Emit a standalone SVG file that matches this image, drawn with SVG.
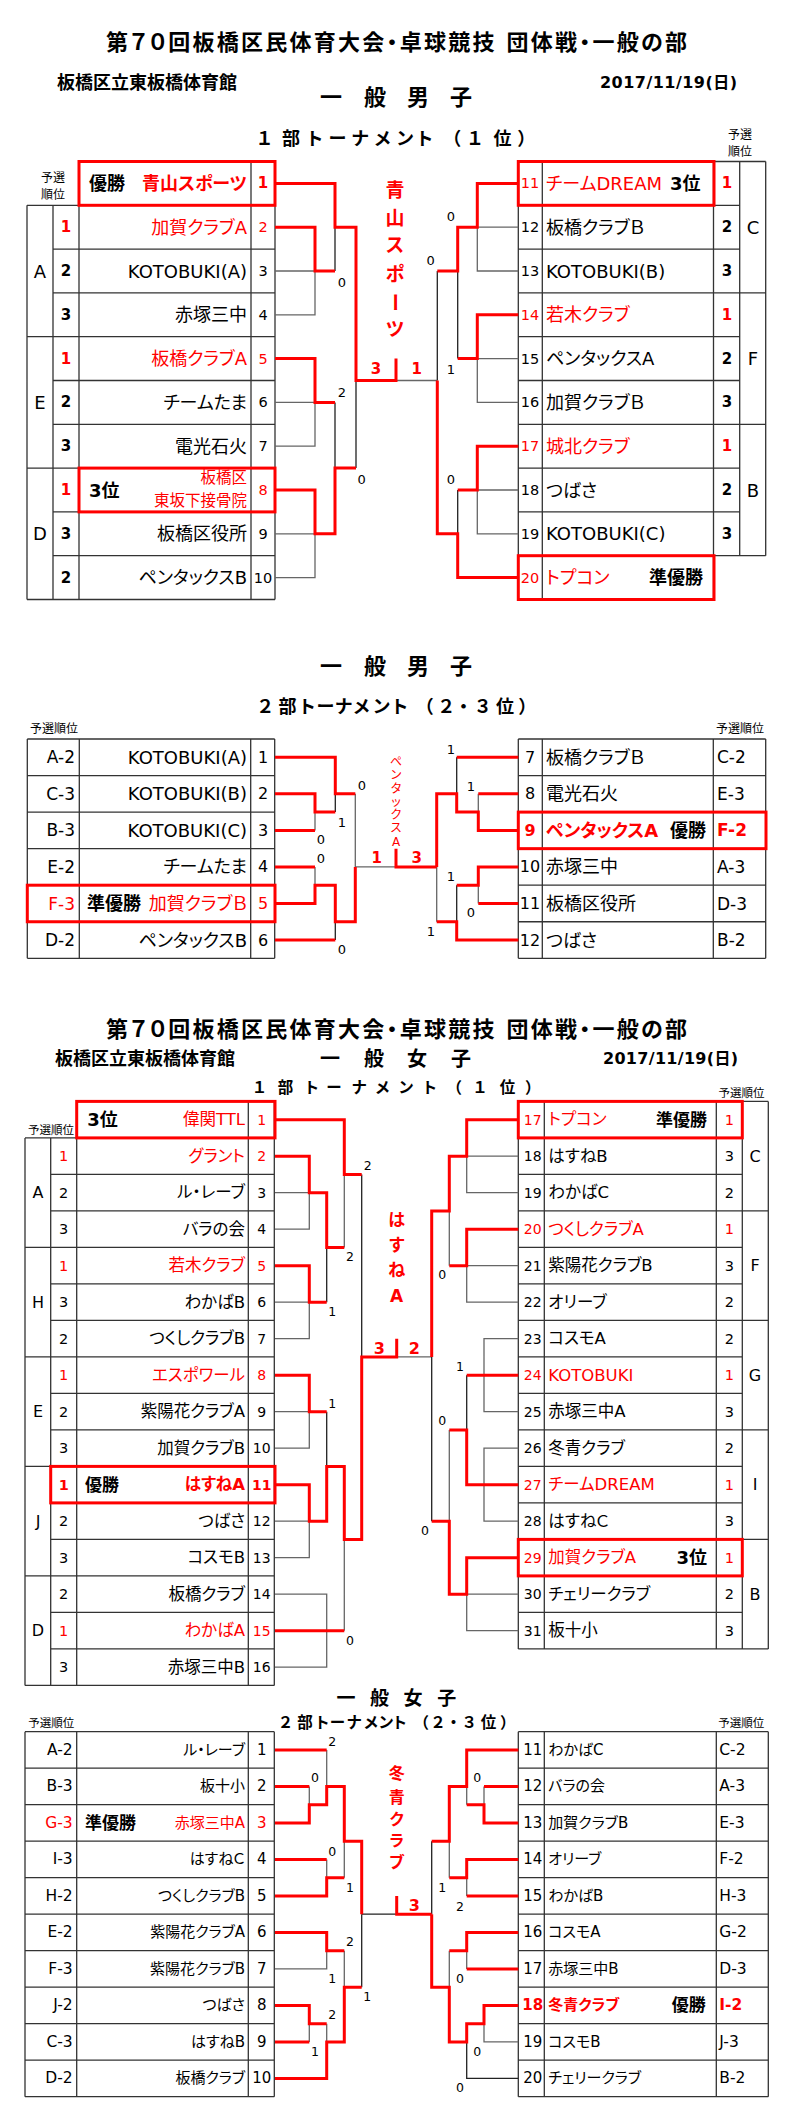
<svg xmlns="http://www.w3.org/2000/svg" width="794" height="2114" viewBox="0 0 794 2114">
<style>
text{font-family:"DejaVu Sans","Noto Sans CJK JP",sans-serif;dominant-baseline:central;font-feature-settings:"palt"}
.b{font-weight:700}
.r{fill:#f00}
.m{text-anchor:middle}
.e{text-anchor:end}
.tl{fill:none;stroke:#333;stroke-width:1.3}
.gl{fill:none;stroke:#666;stroke-width:1.3}
.kl{fill:none;stroke:#222;stroke-width:1.3}
.rl{fill:none;stroke:#f00;stroke-width:3}
.rb{fill:none;stroke:#f00;stroke-width:3}
</style>
<rect width="794" height="2114" fill="#fff"/>

<!-- ================= HEADERS ================= -->
<g id="m1-header">
<text class="b" x="106" y="42" font-size="22" textLength="581" lengthAdjust="spacing">第７０回板橋区民体育大会・卓球競技 団体戦・一般の部</text>
<text class="b" x="57" y="82" font-size="18" textLength="180" lengthAdjust="spacing">板橋区立東板橋体育館</text>
<text class="b" x="600" y="82" font-size="16" textLength="137" lengthAdjust="spacing">2017/11/19(日)</text>
<text class="b m" x="331 375 418 461" y="97.6" font-size="22">一般男子</text>
<text class="b m" x="264.5 291 315 337.5 360 382.5 405 425 456 475 502.5 522.5" y="138.5" font-size="18">１部トーナメント（１位）</text>
<text class="m" x="53" y="178" font-size="12">予選</text>
<text class="m" x="53" y="195" font-size="12">順位</text>
<text class="m" x="740" y="134.7" font-size="12">予選</text>
<text class="m" x="740" y="152" font-size="12">順位</text>
</g>
<g id="m2-header">
<text class="b m" x="331 375 418 461" y="666.7" font-size="22">一般男子</text>
<text class="b m" x="265 287.5 307.5 325.5 343.5 361.5 381.5 400 428.5 446 463.5 482.5 505 523.5" y="706" font-size="18">２部トーナメント（２・３位）</text>
<text x="30" y="729.3" font-size="12">予選順位</text>
<text x="716" y="729.3" font-size="12">予選順位</text>
</g>
<g id="w1-header">
<text class="b" x="106" y="1029" font-size="22" textLength="581" lengthAdjust="spacing">第７０回板橋区民体育大会・卓球競技 団体戦・一般の部</text>
<text class="b" x="55" y="1058.7" font-size="18" textLength="180" lengthAdjust="spacing">板橋区立東板橋体育館</text>
<text class="b" x="603" y="1058.7" font-size="16" textLength="135" lengthAdjust="spacing">2017/11/19(日)</text>
<text class="b m" x="330 374 417 461" y="1058.7" font-size="20">一般女子</text>
<text class="b m" x="259.5 285.5 312 334 359 382.5 406 430 457.5 480 507.5 529.5" y="1087.6" font-size="15.5">１部トーナメント（１位）</text>
<text class="m" x="51" y="1130" font-size="11.5">予選順位</text>
<text class="m" x="741.5" y="1093" font-size="11.5">予選順位</text>
</g>
<g id="w2-header">
<text class="b m" x="346 379.5 413 446.7" y="1698.3" font-size="19">一般女子</text>
<text class="b m" x="285.5 305 322.5 337.5 354 371 386 400 424.5 438 453.5 469 488.5 504.5" y="1722.7" font-size="15.5">２部トーナメント（２・３位）</text>
<text x="28.3" y="1723.3" font-size="11.5">予選順位</text>
<text x="718.3" y="1723.3" font-size="11.5">予選順位</text>
</g>

<!-- ================= TABLE GRIDS ================= -->
<g id="tables">
<path class="tl" d="M79 161.5H275 M27 205.3H275 M53 249.1H275 M53 292.9H275 M27 336.7H275 M53 380.5H275 M53 424.3H275 M27 468.1H275 M53 511.9H275 M53 555.7H275 M27 599.5H275 M27 205.3V599.5 M53 205.3V599.5 M79 161.5V599.5 M251 161.5V599.5 M275 161.5V599.5"/>
<path class="tl" d="M518.3 161.5H765.7 M518.3 205.3H739.7 M518.3 249.1H739.7 M518.3 292.9H765.7 M518.3 336.7H739.7 M518.3 380.5H739.7 M518.3 424.3H765.7 M518.3 468.1H739.7 M518.3 511.9H739.7 M518.3 555.7H765.7 M518.3 599.5H713.5 M518.3 161.5V599.5 M542.3 161.5V599.5 M713.5 161.5V599.5 M739.7 161.5V555.7 M765.7 161.5V555.7"/>
<path class="tl" d="M27.3 739H274.7 M27.3 775.55H274.7 M27.3 812.1H274.7 M27.3 848.65H274.7 M27.3 885.2H274.7 M27.3 921.75H274.7 M27.3 958.3H274.7 M27.3 739V958.3 M79.3 739V958.3 M250.7 739V958.3 M274.7 739V958.3"/>
<path class="tl" d="M518.3 739H765.7 M518.3 775.55H765.7 M518.3 812.1H765.7 M518.3 848.65H765.7 M518.3 885.2H765.7 M518.3 921.75H765.7 M518.3 958.3H765.7 M518.3 739V958.3 M542.3 739V958.3 M713.3 739V958.3 M765.7 739V958.3"/>
<path class="tl" d="M76.7 1101.4H274.3 M25 1137.9H274.3 M50.7 1174.4H274.3 M50.7 1210.9H274.3 M25 1247.4H274.3 M50.7 1283.9H274.3 M50.7 1320.4H274.3 M25 1356.9H274.3 M50.7 1393.4H274.3 M50.7 1429.9H274.3 M25 1466.4H274.3 M50.7 1502.9H274.3 M50.7 1539.4H274.3 M25 1575.9H274.3 M50.7 1612.4H274.3 M50.7 1648.9H274.3 M25 1685.4H274.3 M25 1137.9V1685.4 M50.7 1137.9V1685.4 M76.7 1101.4V1685.4 M248.3 1101.4V1685.4 M274.3 1101.4V1685.4"/>
<path class="tl" d="M518.3 1101.4H768.3 M518.3 1137.9H742.3 M518.3 1174.4H742.3 M518.3 1210.9H768.3 M518.3 1247.4H742.3 M518.3 1283.9H742.3 M518.3 1320.4H768.3 M518.3 1356.9H742.3 M518.3 1393.4H742.3 M518.3 1429.9H768.3 M518.3 1466.4H742.3 M518.3 1502.9H742.3 M518.3 1539.4H768.3 M518.3 1575.9H742.3 M518.3 1612.4H742.3 M518.3 1648.9H768.3 M518.3 1101.4V1648.9 M544.3 1101.4V1648.9 M716.3 1101.4V1648.9 M742.3 1101.4V1648.9 M768.3 1101.4V1648.9"/>
<path class="tl" d="M25 1731.7H274.3 M25 1768.2H274.3 M25 1804.7H274.3 M25 1841.2H274.3 M25 1877.7H274.3 M25 1914.2H274.3 M25 1950.7H274.3 M25 1987.2H274.3 M25 2023.7H274.3 M25 2060.2H274.3 M25 2096.7H274.3 M25 1731.7V2096.7 M76.7 1731.7V2096.7 M248.3 1731.7V2096.7 M274.3 1731.7V2096.7"/>
<path class="tl" d="M518.3 1731.7H768.3 M518.3 1768.2H768.3 M518.3 1804.7H768.3 M518.3 1841.2H768.3 M518.3 1877.7H768.3 M518.3 1914.2H768.3 M518.3 1950.7H768.3 M518.3 1987.2H768.3 M518.3 2023.7H768.3 M518.3 2060.2H768.3 M518.3 2096.7H768.3 M518.3 1731.7V2096.7 M544.3 1731.7V2096.7 M716.3 1731.7V2096.7 M768.3 1731.7V2096.7"/>
</g>

<!-- ================= CONNECTORS ================= -->
<g id="connectors">
<g id="m1-lines">
<path class="gl" d="M275 271H315V314.8H275 M275 402.4H315V446.2H275 M275 533.8H315V577.6H275 M396 380.5H437.3 M518.3 227.2H477.3V271H518.3 M518.3 358.6H477.3V402.4H518.3 M518.3 490H477.3V533.8H518.3"/>
<path class="kl" d="M335 227.2V271 M335 402.4V468.1 M356 380.5V468.1 M437.3 271V380.5 M457.7 271V358.6 M457.7 490V533.8"/>
<path class="rl" d="M275 183.4H335V227.2H356V380.5H396V358.6 M275 227.2H315V271H335 M275 358.6H315V402.4H335 M275 490H315V533.8H335V468.1H356 M518.3 183.4H477.3V227.2H457.7V271H437.3 M518.3 314.8H477.3V358.6H457.7 M518.3 446.2H477.3V490H457.7 M518.3 577.6H457.7V533.8H437.3V380.5"/>
</g>
<g id="m2-lines">
<path class="gl" d="M355.3 793.8V866.9 M315 812.1V830.4 M315 866.9V885.2 M355.3 866.9H396 M478.3 793.8V812.1 M478.3 885.2V903.5 M436.7 866.9V921.75"/>
<path class="kl" d="M335.3 793.8V812.1 M335.3 921.75V940 M456.7 757.3V793.8 M456.7 885.2V921.75"/>
<path class="rl" d="M275 757.3H335.3V793.8H355.3 M275 793.8H315V812.1H335.3 M275 830.4H315 M275 866.9H315 M275 903.5H315V885.2H335.3V921.75H355.3V866.9 M275 940H335.3 M396 848.65V866.9H436.7 M518.3 757.3H456.7 M518.3 793.8H478.3 M518.3 830.4H478.3V812.1H456.7V793.8H436.7V866.9 M518.3 866.9H478.3V885.2H456.7 M518.3 903.5H478.3 M518.3 940H456.7V921.75H436.7"/>
</g>
<g id="w1-lines">
<path class="gl" d="M275 1192.65H309.3V1229.15H275 M344.3 1174.4V1247.4 M275 1302.15H309.3V1338.65H275 M275 1411.65H309.3V1448.15H275 M275 1521.15H309.3V1557.65H275 M275 1594.15H326.7V1667.15H275 M344.3 1539.4V1630.65 M396.7 1356.9H431.7 M518.3 1156.15H466.7V1192.65H518.3 M449.3 1210.9V1265.65 M518.3 1265.65H466.7V1302.15H518.3 M518.3 1338.65H484V1411.65H518.3 M518.3 1448.15H484V1521.15H518.3 M449.3 1429.9V1521.15 M518.3 1594.15H466.7V1630.65H518.3"/>
<path class="kl" d="M361.7 1174.4V1356.9 M326.7 1247.4V1302.15 M326.7 1411.65V1466.4 M466.7 1375.15V1429.9 M431.7 1356.9V1521.15"/>
<path class="rl" d="M275 1119.65H344.3V1174.4H361.7 M275 1156.15H309.3V1192.65H326.7V1247.4H344.3 M275 1265.65H309.3V1302.15H326.7 M275 1375.15H309.3V1411.65H326.7 M275 1484.65H309.3V1521.15H326.7V1466.4H344.3V1539.4H361.7V1356.9H396.7V1338.65 M275 1630.65H344.3 M518.3 1119.65H466.7V1156.15H449.3V1210.9H431.7V1356.9 M518.3 1229.15H466.7V1265.65H449.3 M518.3 1375.15H466.7 M518.3 1484.65H466.7V1429.9H449.3 M518.3 1557.65H466.7V1594.15H449.3V1521.15H431.7"/>
</g>
<g id="w2-lines">
<path class="gl" d="M326.7 1749.95V1786.45 M309.3 1786.45V1804.7 M326.7 1859.45V1877.7 M344.3 1841.2V1877.7 M275 1968.95H326.7V1950.7 M344.3 1950.7V1987.2 M309.3 2023.7V2041.95 M326.7 2023.7V2041.95 M484 1786.45V1804.7 M466.7 1786.45V1804.7 M449.3 1841.2V1877.7 M466.7 1877.7V1895.95 M466.7 1950.7V1968.95 M449.3 1950.7V1987.2 M518.3 2041.95H484V2023.7"/>
<path class="kl" d="M361.7 1914.2H396.7 M361.7 1914.2V1987.2 M431.7 1841.2V1914.2 M518.3 2078.45H466.7V2041.95"/>
<path class="rl" d="M275 1749.95H326.7 M275 1786.45H309.3 M275 1822.95H309.3V1804.7H326.7V1786.45H344.3V1841.2H361.7V1914.2 M275 1859.45H326.7 M275 1895.95H326.7V1877.7H344.3 M275 1932.45H326.7V1950.7H344.3 M275 2005.45H309.3V2023.7H326.7 M275 2041.95H309.3 M275 2078.45H326.7V2041.95H344.3V1987.2H361.7 M396.7 1896V1914.2H431.7 M518.3 1749.95H466.7V1786.45H449.3V1841.2H431.7 M518.3 1786.45H484 M518.3 1822.95H484V1804.7H466.7 M518.3 1859.45H466.7V1877.7H449.3 M518.3 1895.95H466.7 M518.3 1932.45H466.7V1950.7H449.3 M518.3 1968.95H466.7 M518.3 2005.45H484V2023.7H466.7V2041.95H449.3V1987.2H431.7V1914.2"/>
</g>
</g>

<!-- ================= RED BOXES ================= -->
<g id="highlight-boxes">
<rect class="rb" x="79" y="161.5" width="196" height="43.8"/>
<rect class="rb" x="79" y="468.1" width="196" height="43.8"/>
<rect class="rb" x="518.3" y="161.5" width="195.7" height="43.8"/>
<rect class="rb" x="518.3" y="555.7" width="195.7" height="43.8"/>
<rect class="rb" x="27.3" y="885.2" width="247.7" height="36.55"/>
<rect class="rb" x="518.3" y="812.1" width="247.7" height="36.55"/>
<rect class="rb" x="76.7" y="1101.4" width="198.3" height="36.5"/>
<rect class="rb" x="50.7" y="1466.4" width="224.3" height="36.5"/>
<rect class="rb" x="518.3" y="1101.4" width="224" height="36.5"/>
<rect class="rb" x="518.3" y="1539.4" width="224" height="36.5"/>
</g>

<!-- ================= SCORES ================= -->
<g id="scores" font-size="13">
<text class="m" x="342" y="282.4">0</text><text class="m" x="342" y="392.2">2</text><text class="m" x="361.7" y="479.1">0</text>
<text class="m" x="451" y="216.2">0</text><text class="m" x="430.7" y="260.2">0</text><text class="m" x="451" y="369.3">1</text><text class="m" x="451" y="479.1">0</text>
<text class="m b r" x="376" y="369.3" font-size="15">3</text><text class="m b r" x="416.7" y="369.3" font-size="15">1</text>
<text class="m" x="362" y="785">0</text><text class="m" x="342" y="822">1</text><text class="m" x="321" y="839">0</text><text class="m" x="321" y="858">0</text><text class="m" x="342" y="949">0</text>
<text class="m" x="451" y="749">1</text><text class="m" x="471" y="786">1</text><text class="m" x="451" y="876">1</text><text class="m" x="471" y="912.7">0</text><text class="m" x="431" y="931">1</text>
<text class="m b r" x="376.7" y="857.7" font-size="15">1</text><text class="m b r" x="416.7" y="857.7" font-size="15">3</text>
<g font-size="12.5">
<text class="m" x="367.7" y="1165.7">2</text><text class="m" x="350" y="1256.5">2</text><text class="m" x="332.3" y="1311.5">1</text><text class="m" x="332.3" y="1403">1</text><text class="m" x="350" y="1640">0</text>
<text class="m" x="442.3" y="1274.5">0</text><text class="m" x="460" y="1366.4">1</text><text class="m" x="442.3" y="1420.6">0</text><text class="m" x="425" y="1530.3">0</text>
<text class="m" x="332.3" y="1741">2</text><text class="m" x="315" y="1777.7">0</text><text class="m" x="332.3" y="1851">0</text><text class="m" x="350" y="1887.3">1</text><text class="m" x="350" y="1941.7">2</text><text class="m" x="332.3" y="1978.3">1</text><text class="m" x="367.3" y="1996.7">1</text><text class="m" x="332.3" y="2014.3">2</text><text class="m" x="315" y="2051">1</text>
<text class="m" x="477.3" y="1777.7">0</text><text class="m" x="442.3" y="1887.5">1</text><text class="m" x="460" y="1906">2</text><text class="m" x="460" y="1978.3">0</text><text class="m" x="477.3" y="2051">0</text><text class="m" x="460" y="2087.7">0</text>
</g>
<text class="m b r" x="379.3" y="1348" font-size="16">3</text><text class="m b r" x="414.3" y="1348" font-size="16">2</text>
<text class="m b r" x="414.3" y="1905" font-size="16">3</text>
</g>

<!-- ================= CHAMPION NAMES (vertical) ================= -->
<g id="m1-champion" class="b r" font-size="19">
<text class="m" x="395" y="190.2">青</text><text class="m" x="395" y="218.1">山</text><text class="m" x="395" y="244.9">ス</text><text class="m" x="395" y="273.6">ポ</text><text class="m" transform="translate(395 302.3) rotate(90)">ー</text><text class="m" x="395" y="329.1">ツ</text>
</g>
<g id="m2-champion" class="r" font-size="12">
<text class="m" x="396" y="761.7">ペ</text><text class="m" x="396" y="775">ン</text><text class="m" x="396" y="788.5">タ</text><text class="m" x="396" y="801.7">ッ</text><text class="m" x="396" y="814.5">ク</text><text class="m" x="396" y="827.5">ス</text><text class="m" x="396" y="841.7">A</text>
</g>
<g id="w1-champion" class="b r" font-size="17">
<text class="m" x="396.7" y="1220">は</text><text class="m" x="396.7" y="1245">す</text><text class="m" x="396.7" y="1270">ね</text><text class="m" x="396.7" y="1295.7">A</text>
</g>
<g id="w2-champion" class="b r" font-size="16">
<text class="m" x="396.7" y="1773.3">冬</text><text class="m" x="396.7" y="1797.3">青</text><text class="m" x="396.7" y="1819.3">ク</text><text class="m" x="396.7" y="1840.7">ラ</text><text class="m" x="396.7" y="1862.7">ブ</text>
</g>

<!-- ================= MEN 1st TOURNAMENT TEAMS ================= -->
<g id="m1-groups" font-size="18">
<text class="m" x="40" y="271">A</text><text class="m" x="40" y="402.4">E</text><text class="m" x="40" y="533.8">D</text>
<text class="m" x="753" y="227.2">C</text><text class="m" x="753" y="358.6">F</text><text class="m" x="753" y="490">B</text>
</g>
<g id="m1-t1"><text class="b" x="89" y="183.4" font-size="18">優勝</text><text class="b r e" x="247" y="183.4" font-size="18">青山スポーツ</text><text class="b r m" x="263" y="183.4" font-size="15">1</text></g>
<g id="m1-t2"><text class="b r m" x="66" y="227.2" font-size="15">1</text><text class="r e" x="247" y="227.2" font-size="18">加賀クラブA</text><text class="r m" x="263" y="227.2" font-size="14.5">2</text></g>
<g id="m1-t3"><text class="b m" x="66" y="271" font-size="15">2</text><text class="e" x="247" y="271" font-size="18">KOTOBUKI(A)</text><text class="m" x="263" y="271" font-size="14.5">3</text></g>
<g id="m1-t4"><text class="b m" x="66" y="314.8" font-size="15">3</text><text class="e" x="247" y="314.8" font-size="18">赤塚三中</text><text class="m" x="263" y="314.8" font-size="14.5">4</text></g>
<g id="m1-t5"><text class="b r m" x="66" y="358.6" font-size="15">1</text><text class="r e" x="247" y="358.6" font-size="18">板橋クラブA</text><text class="r m" x="263" y="358.6" font-size="14.5">5</text></g>
<g id="m1-t6"><text class="b m" x="66" y="402.4" font-size="15">2</text><text class="e" x="247" y="402.4" font-size="18">チームたま</text><text class="m" x="263" y="402.4" font-size="14.5">6</text></g>
<g id="m1-t7"><text class="b m" x="66" y="446.2" font-size="15">3</text><text class="e" x="247" y="446.2" font-size="18">電光石火</text><text class="m" x="263" y="446.2" font-size="14.5">7</text></g>
<g id="m1-t8"><text class="b r m" x="66" y="490" font-size="15">1</text><text class="b" x="89" y="490" font-size="18">3位</text><text class="r e" x="247" y="478.3" font-size="15.5">板橋区</text><text class="r e" x="247" y="501.3" font-size="15.5">東坂下接骨院</text><text class="r m" x="263" y="490" font-size="14.5">8</text></g>
<g id="m1-t9"><text class="b m" x="66" y="533.8" font-size="15">3</text><text class="e" x="247" y="533.8" font-size="18">板橋区役所</text><text class="m" x="263" y="533.8" font-size="14.5">9</text></g>
<g id="m1-t10"><text class="b m" x="66" y="577.6" font-size="15">2</text><text class="e" x="247" y="577.6" font-size="18">ペンタックスB</text><text class="m" x="263" y="577.6" font-size="14.5">10</text></g>
<g id="m1-t11"><text class="r m" x="530" y="183.4" font-size="14.5">11</text><text class="r" x="546" y="183.4" font-size="18">チームDREAM</text><text class="b" x="670" y="183.4" font-size="18">3位</text><text class="b r m" x="727" y="183.4" font-size="15">1</text></g>
<g id="m1-t12"><text class="m" x="530" y="227.2" font-size="14.5">12</text><text x="546" y="227.2" font-size="18">板橋クラブＢ</text><text class="b m" x="727" y="227.2" font-size="15">2</text></g>
<g id="m1-t13"><text class="m" x="530" y="271" font-size="14.5">13</text><text x="546" y="271" font-size="18">KOTOBUKI(B)</text><text class="b m" x="727" y="271" font-size="15">3</text></g>
<g id="m1-t14"><text class="r m" x="530" y="314.8" font-size="14.5">14</text><text class="r" x="546" y="314.8" font-size="18">若木クラブ</text><text class="b r m" x="727" y="314.8" font-size="15">1</text></g>
<g id="m1-t15"><text class="m" x="530" y="358.6" font-size="14.5">15</text><text x="546" y="358.6" font-size="18">ペンタックスA</text><text class="b m" x="727" y="358.6" font-size="15">2</text></g>
<g id="m1-t16"><text class="m" x="530" y="402.4" font-size="14.5">16</text><text x="546" y="402.4" font-size="18">加賀クラブＢ</text><text class="b m" x="727" y="402.4" font-size="15">3</text></g>
<g id="m1-t17"><text class="r m" x="530" y="446.2" font-size="14.5">17</text><text class="r" x="546" y="446.2" font-size="18">城北クラブ</text><text class="b r m" x="727" y="446.2" font-size="15">1</text></g>
<g id="m1-t18"><text class="m" x="530" y="490" font-size="14.5">18</text><text x="546" y="490" font-size="18">つばさ</text><text class="b m" x="727" y="490" font-size="15">2</text></g>
<g id="m1-t19"><text class="m" x="530" y="533.8" font-size="14.5">19</text><text x="546" y="533.8" font-size="18">KOTOBUKI(C)</text><text class="b m" x="727" y="533.8" font-size="15">3</text></g>
<g id="m1-t20"><text class="r m" x="530" y="577.6" font-size="14.5">20</text><text class="r" x="546" y="577.6" font-size="18">トプコン</text><text class="b e" x="703" y="577.6" font-size="18">準優勝</text></g>

<!-- ================= MEN 2nd TOURNAMENT TEAMS ================= -->
<g id="m2-t1"><text class="e" x="75" y="757.3" font-size="17">A-2</text><text class="e" x="247" y="757.3" font-size="18">KOTOBUKI(A)</text><text class="m" x="263" y="757.3" font-size="16">1</text></g>
<g id="m2-t2"><text class="e" x="75" y="793.8" font-size="17">C-3</text><text class="e" x="247" y="793.8" font-size="18">KOTOBUKI(B)</text><text class="m" x="263" y="793.8" font-size="16">2</text></g>
<g id="m2-t3"><text class="e" x="75" y="830.4" font-size="17">B-3</text><text class="e" x="247" y="830.4" font-size="18">KOTOBUKI(C)</text><text class="m" x="263" y="830.4" font-size="16">3</text></g>
<g id="m2-t4"><text class="e" x="75" y="866.9" font-size="17">E-2</text><text class="e" x="247" y="866.9" font-size="18">チームたま</text><text class="m" x="263" y="866.9" font-size="16">4</text></g>
<g id="m2-t5"><text class="e r" x="75" y="903.5" font-size="17">F-3</text><text class="b" x="87" y="903.5" font-size="18">準優勝</text><text class="e r" x="247" y="903.5" font-size="18">加賀クラブＢ</text><text class="m r" x="263" y="903.5" font-size="16">5</text></g>
<g id="m2-t6"><text class="e" x="75" y="940" font-size="17">D-2</text><text class="e" x="247" y="940" font-size="18">ペンタックスB</text><text class="m" x="263" y="940" font-size="16">6</text></g>
<g id="m2-t7"><text class="m" x="530" y="757.3" font-size="16">7</text><text x="546" y="757.3" font-size="18">板橋クラブＢ</text><text x="717" y="757.3" font-size="17">C-2</text></g>
<g id="m2-t8"><text class="m" x="530" y="793.8" font-size="16">8</text><text x="546" y="793.8" font-size="18">電光石火</text><text x="717" y="793.8" font-size="17">E-3</text></g>
<g id="m2-t9"><text class="m b r" x="530" y="830.4" font-size="16">9</text><text class="b r" x="546" y="830.4" font-size="18">ペンタックスA</text><text class="b" x="670" y="830.4" font-size="18">優勝</text><text class="b r" x="717" y="830.4" font-size="17">F-2</text></g>
<g id="m2-t10"><text class="m" x="530" y="866.9" font-size="16">10</text><text x="546" y="866.9" font-size="18">赤塚三中</text><text x="717" y="866.9" font-size="17">A-3</text></g>
<g id="m2-t11"><text class="m" x="530" y="903.5" font-size="16">11</text><text x="546" y="903.5" font-size="18">板橋区役所</text><text x="717" y="903.5" font-size="17">D-3</text></g>
<g id="m2-t12"><text class="m" x="530" y="940" font-size="16">12</text><text x="546" y="940" font-size="18">つばさ</text><text x="717" y="940" font-size="17">B-2</text></g>

<!-- ================= WOMEN 1st TOURNAMENT TEAMS ================= -->
<g id="w1-groups" font-size="16">
<text class="m" x="38" y="1192.65">A</text><text class="m" x="38" y="1302.15">H</text><text class="m" x="38" y="1411.65">E</text><text class="m" x="38" y="1521.15">J</text><text class="m" x="38" y="1630.65">D</text>
<text class="m" x="755" y="1156.15">C</text><text class="m" x="755" y="1265.65">F</text><text class="m" x="755" y="1375.15">G</text><text class="m" x="755" y="1484.65">I</text><text class="m" x="755" y="1594.15">B</text>
</g>
<g id="w1-t1"><text class="b" x="87.3" y="1119.65" font-size="18">3位</text><text class="r e" x="245" y="1119.65" font-size="16.5">偉関TTL</text><text class="r m" x="261.7" y="1119.65" font-size="14">1</text></g>
<g id="w1-t2"><text class="r m" x="63.7" y="1156.15" font-size="14.5">1</text><text class="r e" x="245" y="1156.15" font-size="16.5">グラント</text><text class="r m" x="261.7" y="1156.15" font-size="14">2</text></g>
<g id="w1-t3"><text class="m" x="63.7" y="1192.65" font-size="14.5">2</text><text class="e" x="245" y="1192.65" font-size="16.5">ル・レーブ</text><text class="m" x="261.7" y="1192.65" font-size="14">3</text></g>
<g id="w1-t4"><text class="m" x="63.7" y="1229.15" font-size="14.5">3</text><text class="e" x="245" y="1229.15" font-size="16.5">バラの会</text><text class="m" x="261.7" y="1229.15" font-size="14">4</text></g>
<g id="w1-t5"><text class="r m" x="63.7" y="1265.65" font-size="14.5">1</text><text class="r e" x="245" y="1265.65" font-size="16.5">若木クラブ</text><text class="r m" x="261.7" y="1265.65" font-size="14">5</text></g>
<g id="w1-t6"><text class="m" x="63.7" y="1302.15" font-size="14.5">3</text><text class="e" x="245" y="1302.15" font-size="16.5">わかばB</text><text class="m" x="261.7" y="1302.15" font-size="14">6</text></g>
<g id="w1-t7"><text class="m" x="63.7" y="1338.65" font-size="14.5">2</text><text class="e" x="245" y="1338.65" font-size="16.5">つくしクラブB</text><text class="m" x="261.7" y="1338.65" font-size="14">7</text></g>
<g id="w1-t8"><text class="r m" x="63.7" y="1375.15" font-size="14.5">1</text><text class="r e" x="245" y="1375.15" font-size="16.5">エスポワール</text><text class="r m" x="261.7" y="1375.15" font-size="14">8</text></g>
<g id="w1-t9"><text class="m" x="63.7" y="1411.65" font-size="14.5">2</text><text class="e" x="245" y="1411.65" font-size="16.5">紫陽花クラブA</text><text class="m" x="261.7" y="1411.65" font-size="14">9</text></g>
<g id="w1-t10"><text class="m" x="63.7" y="1448.15" font-size="14.5">3</text><text class="e" x="245" y="1448.15" font-size="16.5">加賀クラブB</text><text class="m" x="261.7" y="1448.15" font-size="14">10</text></g>
<g id="w1-t11"><text class="b r m" x="63.7" y="1484.65" font-size="14.5">1</text><text class="b" x="85" y="1484.65" font-size="17">優勝</text><text class="b r e" x="245" y="1484.65" font-size="16.5">はすねA</text><text class="b r m" x="261.7" y="1484.65" font-size="14">11</text></g>
<g id="w1-t12"><text class="m" x="63.7" y="1521.15" font-size="14.5">2</text><text class="e" x="245" y="1521.15" font-size="16.5">つばさ</text><text class="m" x="261.7" y="1521.15" font-size="14">12</text></g>
<g id="w1-t13"><text class="m" x="63.7" y="1557.65" font-size="14.5">3</text><text class="e" x="245" y="1557.65" font-size="16.5">コスモB</text><text class="m" x="261.7" y="1557.65" font-size="14">13</text></g>
<g id="w1-t14"><text class="m" x="63.7" y="1594.15" font-size="14.5">2</text><text class="e" x="245" y="1594.15" font-size="16.5">板橋クラブ</text><text class="m" x="261.7" y="1594.15" font-size="14">14</text></g>
<g id="w1-t15"><text class="r m" x="63.7" y="1630.65" font-size="14.5">1</text><text class="r e" x="245" y="1630.65" font-size="16.5">わかばA</text><text class="r m" x="261.7" y="1630.65" font-size="14">15</text></g>
<g id="w1-t16"><text class="m" x="63.7" y="1667.15" font-size="14.5">3</text><text class="e" x="245" y="1667.15" font-size="16.5">赤塚三中B</text><text class="m" x="261.7" y="1667.15" font-size="14">16</text></g>
<g id="w1-t17"><text class="r m" x="532.7" y="1119.65" font-size="14">17</text><text class="r" x="548.3" y="1119.65" font-size="16.5">トプコン</text><text class="b e" x="707" y="1119.65" font-size="17">準優勝</text><text class="r m" x="729.3" y="1119.65" font-size="14.5">1</text></g>
<g id="w1-t18"><text class="m" x="532.7" y="1156.15" font-size="14">18</text><text x="548.3" y="1156.15" font-size="16.5">はすねB</text><text class="m" x="729.3" y="1156.15" font-size="14.5">3</text></g>
<g id="w1-t19"><text class="m" x="532.7" y="1192.65" font-size="14">19</text><text x="548.3" y="1192.65" font-size="16.5">わかばC</text><text class="m" x="729.3" y="1192.65" font-size="14.5">2</text></g>
<g id="w1-t20"><text class="r m" x="532.7" y="1229.15" font-size="14">20</text><text class="r" x="548.3" y="1229.15" font-size="16.5">つくしクラブA</text><text class="r m" x="729.3" y="1229.15" font-size="14.5">1</text></g>
<g id="w1-t21"><text class="m" x="532.7" y="1265.65" font-size="14">21</text><text x="548.3" y="1265.65" font-size="16.5">紫陽花クラブB</text><text class="m" x="729.3" y="1265.65" font-size="14.5">3</text></g>
<g id="w1-t22"><text class="m" x="532.7" y="1302.15" font-size="14">22</text><text x="548.3" y="1302.15" font-size="16.5">オリーブ</text><text class="m" x="729.3" y="1302.15" font-size="14.5">2</text></g>
<g id="w1-t23"><text class="m" x="532.7" y="1338.65" font-size="14">23</text><text x="548.3" y="1338.65" font-size="16.5">コスモA</text><text class="m" x="729.3" y="1338.65" font-size="14.5">2</text></g>
<g id="w1-t24"><text class="r m" x="532.7" y="1375.15" font-size="14">24</text><text class="r" x="548.3" y="1375.15" font-size="16.5">KOTOBUKI</text><text class="r m" x="729.3" y="1375.15" font-size="14.5">1</text></g>
<g id="w1-t25"><text class="m" x="532.7" y="1411.65" font-size="14">25</text><text x="548.3" y="1411.65" font-size="16.5">赤塚三中A</text><text class="m" x="729.3" y="1411.65" font-size="14.5">3</text></g>
<g id="w1-t26"><text class="m" x="532.7" y="1448.15" font-size="14">26</text><text x="548.3" y="1448.15" font-size="16.5">冬青クラブ</text><text class="m" x="729.3" y="1448.15" font-size="14.5">2</text></g>
<g id="w1-t27"><text class="r m" x="532.7" y="1484.65" font-size="14">27</text><text class="r" x="548.3" y="1484.65" font-size="16.5">チームDREAM</text><text class="r m" x="729.3" y="1484.65" font-size="14.5">1</text></g>
<g id="w1-t28"><text class="m" x="532.7" y="1521.15" font-size="14">28</text><text x="548.3" y="1521.15" font-size="16.5">はすねＣ</text><text class="m" x="729.3" y="1521.15" font-size="14.5">3</text></g>
<g id="w1-t29"><text class="r m" x="532.7" y="1557.65" font-size="14">29</text><text class="r" x="548.3" y="1557.65" font-size="16.5">加賀クラブA</text><text class="b e" x="707" y="1557.65" font-size="18">3位</text><text class="r m" x="729.3" y="1557.65" font-size="14.5">1</text></g>
<g id="w1-t30"><text class="m" x="532.7" y="1594.15" font-size="14">30</text><text x="548.3" y="1594.15" font-size="16.5">チェリークラブ</text><text class="m" x="729.3" y="1594.15" font-size="14.5">2</text></g>
<g id="w1-t31"><text class="m" x="532.7" y="1630.65" font-size="14">31</text><text x="548.3" y="1630.65" font-size="16.5">板十小</text><text class="m" x="729.3" y="1630.65" font-size="14.5">3</text></g>

<!-- ================= WOMEN 2nd TOURNAMENT TEAMS ================= -->
<g id="w2-t1"><text class="e" x="72.7" y="1749.95" font-size="15.5">A-2</text><text class="e" x="245" y="1749.95" font-size="15">ル・レーブ</text><text class="m" x="261.7" y="1749.95" font-size="15">1</text></g>
<g id="w2-t2"><text class="e" x="72.7" y="1786.45" font-size="15.5">B-3</text><text class="e" x="245" y="1786.45" font-size="15">板十小</text><text class="m" x="261.7" y="1786.45" font-size="15">2</text></g>
<g id="w2-t3"><text class="e r" x="72.7" y="1822.95" font-size="15.5">G-3</text><text class="b" x="85" y="1822.95" font-size="17">準優勝</text><text class="e r" x="245" y="1822.95" font-size="15">赤塚三中A</text><text class="m r" x="261.7" y="1822.95" font-size="15">3</text></g>
<g id="w2-t4"><text class="e" x="72.7" y="1859.45" font-size="15.5">I-3</text><text class="e" x="245" y="1859.45" font-size="15">はすねＣ</text><text class="m" x="261.7" y="1859.45" font-size="15">4</text></g>
<g id="w2-t5"><text class="e" x="72.7" y="1895.95" font-size="15.5">H-2</text><text class="e" x="245" y="1895.95" font-size="15">つくしクラブB</text><text class="m" x="261.7" y="1895.95" font-size="15">5</text></g>
<g id="w2-t6"><text class="e" x="72.7" y="1932.45" font-size="15.5">E-2</text><text class="e" x="245" y="1932.45" font-size="15">紫陽花クラブA</text><text class="m" x="261.7" y="1932.45" font-size="15">6</text></g>
<g id="w2-t7"><text class="e" x="72.7" y="1968.95" font-size="15.5">F-3</text><text class="e" x="245" y="1968.95" font-size="15">紫陽花クラブB</text><text class="m" x="261.7" y="1968.95" font-size="15">7</text></g>
<g id="w2-t8"><text class="e" x="72.7" y="2005.45" font-size="15.5">J-2</text><text class="e" x="245" y="2005.45" font-size="15">つばさ</text><text class="m" x="261.7" y="2005.45" font-size="15">8</text></g>
<g id="w2-t9"><text class="e" x="72.7" y="2041.95" font-size="15.5">C-3</text><text class="e" x="245" y="2041.95" font-size="15">はすねB</text><text class="m" x="261.7" y="2041.95" font-size="15">9</text></g>
<g id="w2-t10"><text class="e" x="72.7" y="2078.45" font-size="15.5">D-2</text><text class="e" x="245" y="2078.45" font-size="15">板橋クラブ</text><text class="m" x="261.7" y="2078.45" font-size="15">10</text></g>
<g id="w2-t11"><text class="m" x="532.7" y="1749.95" font-size="15">11</text><text x="548.3" y="1749.95" font-size="15">わかばC</text><text x="719.3" y="1749.95" font-size="15.5">C-2</text></g>
<g id="w2-t12"><text class="m" x="532.7" y="1786.45" font-size="15">12</text><text x="548.3" y="1786.45" font-size="15">バラの会</text><text x="719.3" y="1786.45" font-size="15.5">A-3</text></g>
<g id="w2-t13"><text class="m" x="532.7" y="1822.95" font-size="15">13</text><text x="548.3" y="1822.95" font-size="15">加賀クラブB</text><text x="719.3" y="1822.95" font-size="15.5">E-3</text></g>
<g id="w2-t14"><text class="m" x="532.7" y="1859.45" font-size="15">14</text><text x="548.3" y="1859.45" font-size="15">オリーブ</text><text x="719.3" y="1859.45" font-size="15.5">F-2</text></g>
<g id="w2-t15"><text class="m" x="532.7" y="1895.95" font-size="15">15</text><text x="548.3" y="1895.95" font-size="15">わかばB</text><text x="719.3" y="1895.95" font-size="15.5">H-3</text></g>
<g id="w2-t16"><text class="m" x="532.7" y="1932.45" font-size="15">16</text><text x="548.3" y="1932.45" font-size="15">コスモA</text><text x="719.3" y="1932.45" font-size="15.5">G-2</text></g>
<g id="w2-t17"><text class="m" x="532.7" y="1968.95" font-size="15">17</text><text x="548.3" y="1968.95" font-size="15">赤塚三中B</text><text x="719.3" y="1968.95" font-size="15.5">D-3</text></g>
<g id="w2-t18"><text class="m b r" x="532.7" y="2005.45" font-size="15">18</text><text class="b r" x="548.3" y="2005.45" font-size="15">冬青クラブ</text><text class="b" x="671.7" y="2005.45" font-size="17">優勝</text><text class="b r" x="719.3" y="2005.45" font-size="15.5">I-2</text></g>
<g id="w2-t19"><text class="m" x="532.7" y="2041.95" font-size="15">19</text><text x="548.3" y="2041.95" font-size="15">コスモB</text><text x="719.3" y="2041.95" font-size="15.5">J-3</text></g>
<g id="w2-t20"><text class="m" x="532.7" y="2078.45" font-size="15">20</text><text x="548.3" y="2078.45" font-size="15">チェリークラブ</text><text x="719.3" y="2078.45" font-size="15.5">B-2</text></g>
</svg>
